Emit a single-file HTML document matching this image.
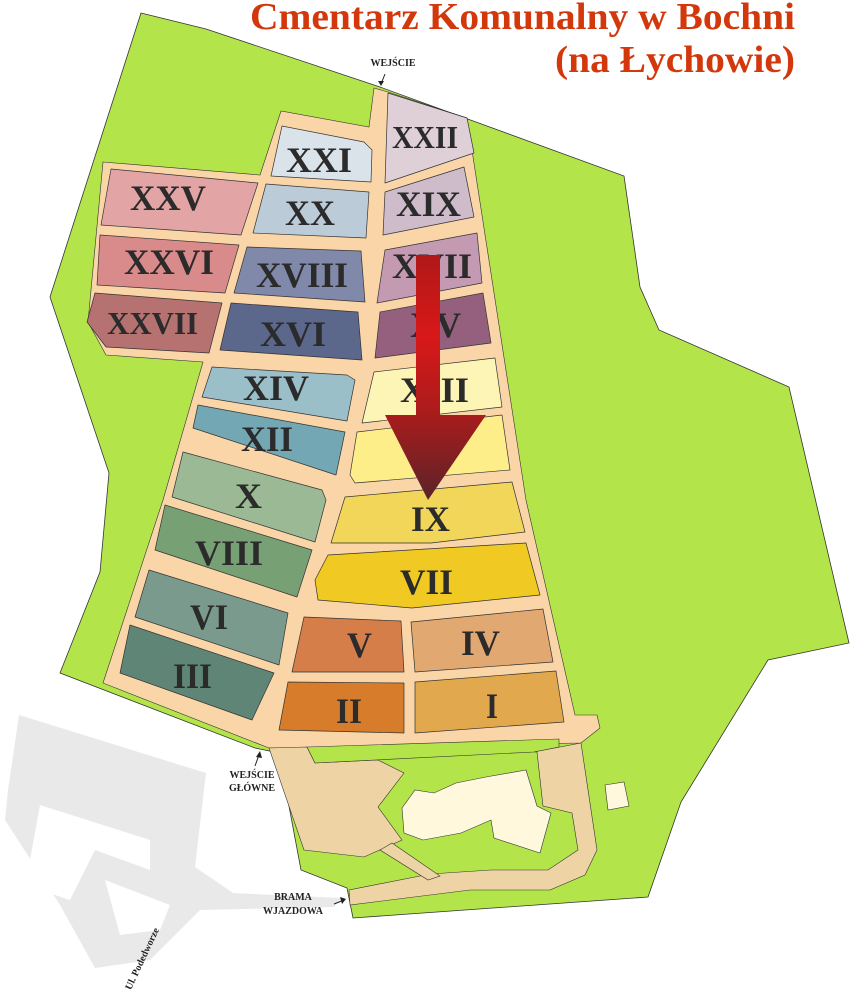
<!DOCTYPE html>
<html><head><meta charset="utf-8"><style>
html,body{margin:0;padding:0;background:#fff}
svg{display:block}
.s{font-family:"Liberation Serif",serif;font-weight:bold;fill:#2b2b2b}
.t{font-family:"Liberation Serif",serif;font-weight:bold;fill:#d2380c;font-size:38px}
.l{font-family:"Liberation Serif",serif;font-weight:bold;fill:#222;text-anchor:middle;font-size:10px}
</style></head><body>
<svg width="851" height="992" viewBox="0 0 851 992" xmlns="http://www.w3.org/2000/svg">
<defs>
<linearGradient id="ar" x1="0" y1="0" x2="0" y2="1">
<stop offset="0" stop-color="#b01818"/><stop offset="0.5" stop-color="#d81818"/><stop offset="1" stop-color="#a81c1c"/></linearGradient>
<linearGradient id="ah" x1="0" y1="0" x2="0" y2="1">
<stop offset="0" stop-color="#a81c1c"/><stop offset="1" stop-color="#5a2329"/></linearGradient>
</defs>
<g fill="#e9e9e9">
<polygon points="19,715 206,773 195,867 233,893 342,898 334,907 200,910 150,960 95,968 60,905 5,820 8,790"/>
</g>
<g fill="#fff">
<polygon points="40,805 150,840 150,870 95,850 70,900 40,890 30,860"/>
<polygon points="105,880 170,905 160,930 120,935"/>
</g>
<polygon fill="#b3e54a" stroke="#333" stroke-width="0.8" points="141,13 206,29 380,87 624,176 640,287 659,330 789,387 849,643 768,660 681,802 648,897 353,918 347,888 301,870 279,753 255,748 60,673 100,572 109,473 50,297"/>
<polygon fill="#f9d5a7" stroke="#333" stroke-width="0.6" points="103,162 260,175 281,111 369,127 374,88 388,92 467,118 526,500 575,715 597,715 600,728 581,743 269,748 103,683 163,500 203,362 106,355 88,322"/>
<polygon fill="#eed4a4" stroke="#333" stroke-width="0.6" points="269,748 307,747 315,763 378,760 404,773 378,807 402,840 364,857 304,850"/>
<polygon fill="#b3e54a" stroke="#333" stroke-width="0.6" points="307,747 559,739 559,747 534,752 315,763"/>
<polygon fill="#eed4a4" stroke="#333" stroke-width="0.6" points="534,752 581,743 597,850 585,875 550,890 470,890 350,905 349,890 430,874 491,870 548,870 578,850 572,813 543,806 537,752"/>
<polygon fill="#eed4a4" stroke="#333" stroke-width="0.6" points="380,850 392,843 440,876 428,880"/>
<polygon fill="#fff8dc" stroke="#333" stroke-width="0.6" points="402,808 415,790 434,793 456,783 486,777 526,770 537,806 551,813 540,853 494,838 491,820 461,833 423,840 404,833"/>
<polygon fill="#fff8dc" stroke="#333" stroke-width="0.6" points="605,785 624,782 629,806 608,810"/>
<g stroke="#333" stroke-width="0.7" stroke-linejoin="round">
<polygon fill="#dfd0d8" points="388,93 467,118 474,153 385,183"/>
<polygon fill="#dbe3ea" points="282,126 364,142 372,150 371,182 271,176"/>
<polygon fill="#cfbccb" points="385,192 464,167 474,217 383,235"/>
<polygon fill="#bccbd8" points="266,184 369,192 366,238 253,233"/>
<polygon fill="#e2a4a4" points="111,169 258,183 241,235 101,225"/>
<polygon fill="#d98a8a" points="100,235 239,245 225,293 97,285"/>
<polygon fill="#b57271" points="95,293 222,303 209,353 106,347 87,322"/>
<polygon fill="#8089aa" points="247,247 361,251 365,302 234,293"/>
<polygon fill="#c39ab2" points="385,250 477,233 482,283 377,303"/>
<polygon fill="#5b678b" points="231,303 358,312 362,360 220,350"/>
<polygon fill="#95607e" points="380,312 483,293 491,343 375,358"/>
<polygon fill="#9bbfc8" points="212,367 347,375 355,380 347,421 202,397"/>
<polygon fill="#fdf5b5" points="374,372 495,358 502,407 362,423"/>
<polygon fill="#72a7b3" points="198,405 345,432 336,475 193,428"/>
<polygon fill="#fdee8a" points="357,432 502,415 510,470 355,483 350,475"/>
<polygon fill="#9ab994" points="183,452 322,490 326,500 315,542 172,497"/>
<polygon fill="#f2d65a" points="345,497 512,482 525,532 431,543 331,543"/>
<polygon fill="#77a075" points="165,505 312,550 297,597 155,550"/>
<polygon fill="#f0c922" points="328,555 526,543 540,595 412,608 318,600 315,580"/>
<polygon fill="#7b9a8e" points="149,570 288,613 279,665 135,617"/>
<polygon fill="#5e8576" points="130,625 274,673 252,720 120,673"/>
<polygon fill="#d67e4a" points="304,617 401,621 404,672 292,672"/>
<polygon fill="#e1a872" points="411,622 543,609 553,662 415,672"/>
<polygon fill="#d67c2a" points="288,682 404,683 404,733 279,730"/>
<polygon fill="#e2a84e" points="415,682 556,671 564,722 415,733"/>
</g>
<g class="s" font-size="36">
<text x="392" y="148" font-size="32" textLength="66" lengthAdjust="spacingAndGlyphs">XXII</text>
<text x="286" y="172" textLength="66" lengthAdjust="spacingAndGlyphs">XXI</text>
<text x="130" y="210" textLength="76" lengthAdjust="spacingAndGlyphs">XXV</text>
<text x="285" y="225" textLength="50" lengthAdjust="spacingAndGlyphs">XX</text>
<text x="396" y="216" textLength="65" lengthAdjust="spacingAndGlyphs">XIX</text>
<text x="124" y="274" textLength="90" lengthAdjust="spacingAndGlyphs">XXVI</text>
<text x="256" y="287" textLength="92" lengthAdjust="spacingAndGlyphs">XVIII</text>
<text x="392" y="278" textLength="80" lengthAdjust="spacingAndGlyphs">XVII</text>
<text x="107" y="334" font-size="32" textLength="91" lengthAdjust="spacingAndGlyphs">XXVII</text>
<text x="260" y="346" textLength="66" lengthAdjust="spacingAndGlyphs">XVI</text>
<text x="410" y="337" textLength="51" lengthAdjust="spacingAndGlyphs">XV</text>
<text x="243" y="400" textLength="66" lengthAdjust="spacingAndGlyphs">XIV</text>
<text x="400" y="402" textLength="69" lengthAdjust="spacingAndGlyphs">XIII</text>
<text x="241" y="451" textLength="52" lengthAdjust="spacingAndGlyphs">XII</text>
<text x="411" y="462" textLength="38" lengthAdjust="spacingAndGlyphs">XI</text>
<text x="235" y="508" textLength="27" lengthAdjust="spacingAndGlyphs">X</text>
<text x="411" y="531" textLength="39" lengthAdjust="spacingAndGlyphs">IX</text>
<text x="195" y="565" textLength="68" lengthAdjust="spacingAndGlyphs">VIII</text>
<text x="400" y="594" textLength="53" lengthAdjust="spacingAndGlyphs">VII</text>
<text x="190" y="629" textLength="38" lengthAdjust="spacingAndGlyphs">VI</text>
<text x="347" y="657" textLength="25" lengthAdjust="spacingAndGlyphs">V</text>
<text x="461" y="655" textLength="39" lengthAdjust="spacingAndGlyphs">IV</text>
<text x="173" y="688" textLength="39" lengthAdjust="spacingAndGlyphs">III</text>
<text x="336" y="723" textLength="26" lengthAdjust="spacingAndGlyphs">II</text>
<text x="486" y="718" textLength="12" lengthAdjust="spacingAndGlyphs">I</text>
</g>
<rect x="416" y="255" width="24" height="162" fill="url(#ar)"/>
<polygon points="385,415 486,415 428,500" fill="url(#ah)"/>
<text class="t" x="250" y="29" textLength="545" lengthAdjust="spacingAndGlyphs">Cmentarz Komunalny w Bochni</text>
<text class="t" x="555" y="72" textLength="240" lengthAdjust="spacingAndGlyphs">(na Łychowie)</text>
<text class="l" x="393" y="66" font-size="9">WEJŚCIE</text>
<path d="M385,74 L381,84" stroke="#222" stroke-width="1"/><polygon points="378,81 381,86 384,81" fill="#222"/>
<text class="l" x="252" y="778">WEJŚCIE</text>
<text class="l" x="252" y="791">GŁÓWNE</text>
<path d="M255,766 L259,755" stroke="#222" stroke-width="1"/><polygon points="256,757 260,751 262,758" fill="#222"/>
<text class="l" x="293" y="900">BRAMA</text>
<text class="l" x="293" y="914">WJAZDOWA</text>
<path d="M334,904 L344,900" stroke="#222" stroke-width="1"/><polygon points="340,897 346,899 342,904" fill="#222"/>
<text class="l" x="0" y="0" transform="translate(145,960) rotate(-65)" text-anchor="middle">Ul. Podedworze</text>
</svg>
</body></html>
